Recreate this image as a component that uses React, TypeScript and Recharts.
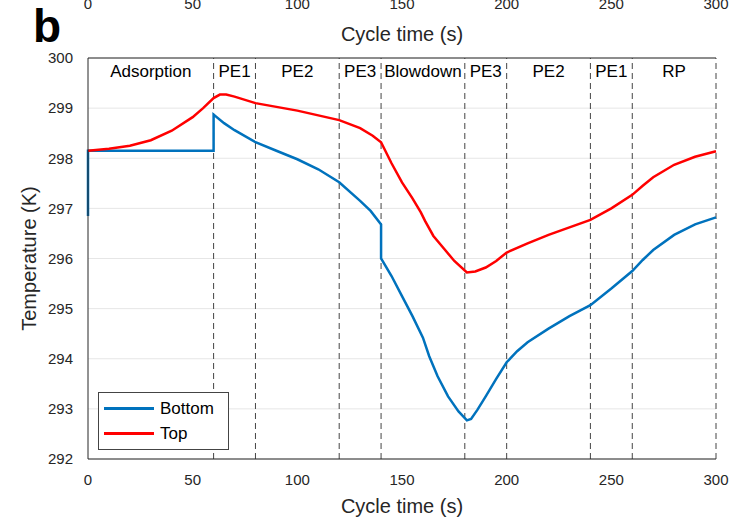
import React from 'react';
import { LineChart, Line, XAxis, YAxis, CartesianGrid, ReferenceLine, Legend } from 'recharts';

const xTicks = [0, 50, 100, 150, 200, 250, 300];
const yTicks = [292, 293, 294, 295, 296, 297, 298, 299, 300];

// step boundaries (s)
const stepBounds = [60, 80, 120, 140, 180, 200, 240, 260, 300];
const stepNames = ['Adsorption', 'PE1', 'PE2', 'PE3', 'Blowdown', 'PE3', 'PE2', 'PE1', 'RP'];
const stepCenters = [30, 70, 100, 130, 160, 190, 220, 250, 280];

const bottomTime = [0, 0, 60, 60, 65, 70, 80, 90, 100, 110, 120, 130, 135, 140, 140, 145, 150, 155, 160, 163, 167, 172, 177, 181, 183, 186, 190, 195, 200, 205, 210, 220, 230, 240, 250, 260, 265, 270, 280, 290, 300];
const bottomTemp = [296.85, 298.15, 298.15, 298.87, 298.7, 298.56, 298.32, 298.15, 297.98, 297.78, 297.52, 297.15, 296.95, 296.68, 296.0, 295.65, 295.25, 294.85, 294.42, 294.05, 293.65, 293.25, 292.95, 292.77, 292.8, 292.98, 293.25, 293.6, 293.93, 294.15, 294.33, 294.6, 294.85, 295.07, 295.4, 295.75, 295.97, 296.17, 296.47, 296.68, 296.82];

const topTime = [0, 10, 20, 30, 40, 50, 55, 60, 63, 66, 70, 80, 100, 120, 130, 136, 140, 145, 150, 155, 159, 161, 165, 170, 175, 181, 185, 190, 195, 200, 210, 220, 230, 240, 250, 260, 265, 270, 280, 290, 300];
const topTemp = [298.15, 298.19, 298.25, 298.36, 298.55, 298.82, 299.0, 299.2, 299.27, 299.27, 299.23, 299.1, 298.95, 298.76, 298.6, 298.45, 298.32, 297.9, 297.52, 297.2, 296.92, 296.75, 296.45, 296.2, 295.95, 295.72, 295.74, 295.82, 295.95, 296.12, 296.3, 296.47, 296.62, 296.77, 297.0, 297.27, 297.45, 297.62, 297.87, 298.03, 298.14];

const bottomData = bottomTime.map((t, i) => ({ t, v: bottomTemp[i] }));
const topData = topTime.map((t, i) => ({ t, v: topTemp[i] }));

const font = 'Liberation Sans, Arial, sans-serif';
const txt = '#262626';

const LegendBox = (props: any) => {
  const items = props.payload || [];
  return (
    <div style={{ fontFamily: font, fontSize: 17, color: '#000', padding: '3px 5px' }}>
      {items.map((p: any) => (
        <div key={p.value} style={{ display: 'flex', alignItems: 'center', height: 25 }}>
          <span style={{ display: 'inline-block', width: 50, height: 3, background: p.color, marginRight: 6 }} />
          {p.value}
        </div>
      ))}
    </div>
  );
};

export default function App() {
  return (
    <div style={{ position: 'absolute', left: 0, top: 0, width: 745, height: 519, background: '#fff' }}>
      <div style={{ position: 'absolute', left: 33, top: 2, fontFamily: font, fontWeight: 'bold', fontSize: 46, lineHeight: '48px', color: '#000' }}>b</div>
      <LineChart width={745} height={519} margin={{ top: 0, right: 29, bottom: 0, left: 0 }} style={{ fontFamily: font }}>
        <CartesianGrid vertical={false} stroke="#e6e6e6" />
        <XAxis xAxisId="top" orientation="top" type="number" dataKey="t" domain={[0, 300]} ticks={xTicks}
          height={58} stroke="#262626" tickLine={false} tickMargin={43}
          tick={{ fill: txt, fontSize: 15 }}
          label={{ value: 'Cycle time (s)', position: 'insideBottom', offset: 17, fill: txt, fontSize: 20 }} />
        <XAxis type="number" dataKey="t" domain={[0, 300]} ticks={xTicks} height={60} stroke="#262626"
          tickLine={false} tickMargin={9} tick={{ fill: txt, fontSize: 15 }}
          label={{ value: 'Cycle time (s)', position: 'insideBottom', offset: 6, fill: txt, fontSize: 20 }} />
        <YAxis type="number" domain={[292, 300]} ticks={yTicks} width={88} stroke="#262626"
          tickLine={false} tickMargin={9} tick={{ fill: txt, fontSize: 15 }}
          label={{ value: 'Temperature (K)', angle: -90, position: 'insideLeft', offset: 29, fill: txt, fontSize: 20, style: { textAnchor: 'middle' } }} />
        <YAxis yAxisId="right" orientation="right" type="number" domain={[292, 300]} width={0} stroke="#262626" tick={false} tickLine={false} />
        {stepBounds.map((b) => (
          <ReferenceLine key={'b' + b} x={b} stroke="#444" strokeDasharray="6 4" strokeWidth={1} />
        ))}
        {stepCenters.map((c, i) => (
          <ReferenceLine key={'c' + i} x={c} stroke="none"
            label={{ value: stepNames[i], position: 'insideTop', offset: 7, fill: '#000', fontSize: 17 }} />
        ))}
        <Line data={bottomData} dataKey="v" name="Bottom" type="linear" stroke="#0072BD" strokeWidth={2.5} dot={false} isAnimationActive={false} />
        <Line xAxisId="top" data={topData} dataKey="v" name="Top" type="linear" stroke="#FF0000" strokeWidth={2.5} dot={false} isAnimationActive={false} />
        <Legend layout="vertical" align="center" verticalAlign="middle" content={<LegendBox />}
          wrapperStyle={{ left: 98, top: 392, width: 131, height: 58, border: '1px solid #444', background: '#fff', boxSizing: 'border-box' }} />
      </LineChart>
    </div>
  );
}
